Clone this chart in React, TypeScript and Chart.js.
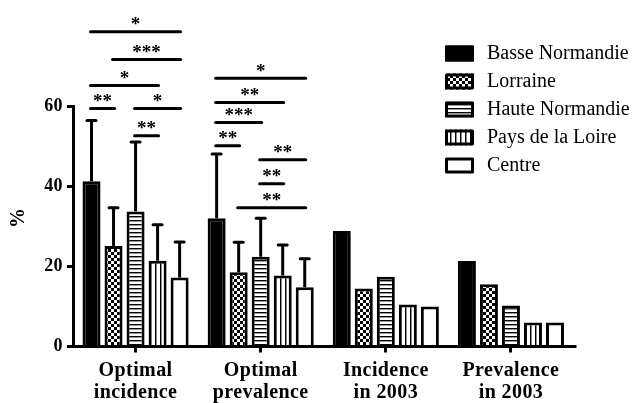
import React, { useEffect, useRef } from 'react';
import { Chart, registerables } from 'chart.js';

Chart.register(...registerables);

const FONT = "'Liberation Serif', 'Times New Roman', Times, serif";

const categories = [
  ['Optimal', 'incidence'],
  ['Optimal', 'prevalence'],
  ['Incidence', 'in 2003'],
  ['Prevalence', 'in 2003'],
];
const seriesNames = ['Basse Normandie', 'Lorraine', 'Haute Normandie', 'Pays de la Loire', 'Centre'];

const basseNormandie = [41.2, 32, 28.8, 21.3];
const lorraine = [25.1, 18.5, 14.5, 15.5];
const hauteNormandie = [33.7, 22.4, 17.4, 10.2];
const paysDeLaLoire = [21.4, 17.7, 10.5, 6];
const centre = [17.2, 14.8, 10, 6];

const basseErr = [56.4, 48, null, null];
const lorraineErr = [34.6, 26, null, null];
const hauteErr = [51, 32, null, null];
const paysErr = [30.4, 25.3, null, null];
const centreErr = [26.1, 21.9, null, null];

const yMin = 0;
const yMax = 60;
const yStep = 20;

// significance brackets
const bracketGroup = [0, 0, 0, 0, 0, 0, 1, 1, 1, 1, 1, 1, 1];
const bracketFrom = [0, 1, 0, 0, 2, 2, 0, 0, 0, 0, 2, 2, 1];
const bracketTo = [4, 4, 3, 1, 4, 3, 4, 3, 2, 1, 4, 3, 4];
const bracketLevel = [78.5, 71.6, 65.1, 59.4, 59.4, 52.6, 66.9, 60.9, 55.9, 50.1, 46.6, 40.6, 34.6];
const bracketStars = ['*', '***', '*', '**', '*', '**', '*', '**', '***', '**', '**', '**', '**'];

function makePattern(kind: string): CanvasPattern | string {
  const c = document.createElement('canvas');
  const ctx = c.getContext('2d');
  if (!ctx) return '#fff';
  if (kind === 'checker') {
    c.width = 6; c.height = 6;
    ctx.fillStyle = '#000'; ctx.fillRect(0, 0, 6, 6);
    ctx.fillStyle = '#fff'; ctx.fillRect(0, 0, 3, 3); ctx.fillRect(3, 3, 3, 3);
  } else if (kind === 'hstripe') {
    c.width = 4; c.height = 4;
    ctx.fillStyle = '#fff'; ctx.fillRect(0, 0, 4, 4);
    ctx.fillStyle = '#000'; ctx.fillRect(0, 0, 4, 1);
    ctx.fillStyle = 'rgba(0,0,0,0.4)'; ctx.fillRect(0, 1, 4, 1);
  } else if (kind === 'vstripe') {
    c.width = 5; c.height = 5;
    ctx.fillStyle = '#fff'; ctx.fillRect(0, 0, 5, 5);
    ctx.fillStyle = '#000'; ctx.fillRect(0, 0, 1, 5);
    ctx.fillStyle = 'rgba(0,0,0,0.45)'; ctx.fillRect(1, 0, 1, 5);
  }
  const p = ctx.createPattern(c, 'repeat');
  return p || '#fff';
}

export default function App() {
  const ref = useRef<HTMLCanvasElement>(null);

  useEffect(() => {
    const canvas = ref.current;
    if (!canvas) return;
    const fills = ['#000', makePattern('checker'), makePattern('hstripe'), makePattern('vstripe'), '#fff'];
    const values = [basseNormandie, lorraine, hauteNormandie, paysDeLaLoire, centre];
    const errors = [basseErr, lorraineErr, hauteErr, paysErr, centreErr];

    const extras = {
      id: 'extras',
      beforeDraw(chart: any) {
        chart.ctx.letterSpacing = '0.4px';
      },
      beforeDatasetsDraw(chart: any) {
        chart.ctx.letterSpacing = '0px';
      },
      afterDatasetsDraw(chart: any) {
        const ctx = chart.ctx;
        const ys = chart.scales.y;
        const area = chart.chartArea;
        ctx.save();
        ctx.strokeStyle = '#000';
        ctx.fillStyle = '#000';
        ctx.lineWidth = 3;
        // axis line extension beyond the plot area
        ctx.beginPath(); ctx.moveTo(area.left - 6, area.bottom); ctx.lineTo(area.right + 3, area.bottom); ctx.stroke();
        errors.forEach((errs, i) => {
          const meta = chart.getDatasetMeta(i);
          errs.forEach((e, j) => {
            if (e == null) return;
            const bar: any = meta.data[j];
            const yt = ys.getPixelForValue(e);
            ctx.lineCap = 'butt';
            ctx.beginPath(); ctx.moveTo(bar.x, bar.y); ctx.lineTo(bar.x, yt); ctx.stroke();
            ctx.lineCap = 'round';
            ctx.beginPath(); ctx.moveTo(bar.x - 4.5, yt); ctx.lineTo(bar.x + 4.5, yt); ctx.stroke();
          });
        });
        ctx.lineCap = 'round';
        ctx.font = `bold 19px ${FONT}`;
        ctx.textAlign = 'center';
        ctx.textBaseline = 'alphabetic';
        bracketGroup.forEach((g, k) => {
          const b1: any = chart.getDatasetMeta(bracketFrom[k]).data[g];
          const b2: any = chart.getDatasetMeta(bracketTo[k]).data[g];
          const yl = ys.getPixelForValue(bracketLevel[k]);
          ctx.beginPath(); ctx.moveTo(b1.x - 1, yl); ctx.lineTo(b2.x + 1, yl); ctx.stroke();
          const m = ctx.measureText(bracketStars[k]);
          const cy = yl - 10.5;
          const base = cy + (m.actualBoundingBoxAscent - m.actualBoundingBoxDescent) / 2;
          ctx.fillText(bracketStars[k], (b1.x + b2.x) / 2, base);
        });
        ctx.restore();
      },
      afterDraw(chart: any) {
        const ctx = chart.ctx;
        ctx.save();
        ctx.letterSpacing = '0px';
        // y title
        ctx.translate(19, 218);
        ctx.rotate(-Math.PI / 2);
        ctx.font = `bold 20px ${FONT}`;
        ctx.fillStyle = '#000';
        ctx.textAlign = 'center';
        ctx.textBaseline = 'middle';
        ctx.fillText('%', 0, 0);
        ctx.restore();
        // legend
        ctx.save();
        ctx.letterSpacing = '0px';
        const bx = 445, bw = 29, bh = 16;
        seriesNames.forEach((name, i) => {
          const cy = 53.5 + i * 28;
          const by = cy - bh / 2;
          ctx.fillStyle = fills[i] as any;
          ctx.fillRect(bx, by, bw, bh);
          ctx.strokeStyle = '#000';
          ctx.lineWidth = 3;
          ctx.lineJoin = 'round';
          ctx.strokeRect(bx + 1.5, by + 1.5, bw - 3, bh - 3);
          ctx.fillStyle = '#000';
          ctx.font = `20px ${FONT}`;
          ctx.textAlign = 'left';
          ctx.textBaseline = 'middle';
          ctx.fillText(name, 487, cy);
        });
        ctx.restore();
      },
    };

    const chart = new Chart(canvas, {
      type: 'bar',
      data: {
        labels: categories as any,
        datasets: seriesNames.map((name, i) => ({
          label: name,
          data: values[i],
          backgroundColor: fills[i] as any,
          borderColor: '#000',
          borderWidth: 3,
          categoryPercentage: 0.88,
          barPercentage: 0.818,
        })),
      },
      options: {
        animation: false,
        responsive: true,
        maintainAspectRatio: false,
        events: [],
        layout: { padding: { top: 106, right: 58.5, bottom: 0, left: 0 } },
        plugins: {
          legend: { display: false },
          tooltip: { enabled: false },
          title: { display: false },
        },
        scales: {
          x: {
            type: 'category',
            grid: { display: true, drawOnChartArea: false, drawTicks: true, tickLength: 6, lineWidth: 3, color: '#000', offset: false },
            border: { display: true, width: 3, color: '#000' },
            ticks: {
              color: '#000',
              font: { family: FONT, size: 20, weight: 'bold', lineHeight: 1.1 },
              padding: 7,
              maxRotation: 0,
              autoSkip: false,
            },
            afterFit: (s: any) => { s.height = 56.5; },
          },
          y: {
            min: yMin,
            max: yMax,
            grid: { display: true, drawOnChartArea: false, drawTicks: true, tickLength: 6, lineWidth: 3, color: '#000' },
            border: { display: true, width: 3, color: '#000' },
            ticks: {
              stepSize: yStep,
              color: '#000',
              font: { family: FONT, size: 18, weight: 'bold' },
              padding: 4,
            },
            afterFit: (s: any) => { s.width = 73; },
          },
        },
      },
      plugins: [extras],
    } as any);

    return () => chart.destroy();
  }, []);

  return (
    <div style={{ position: 'fixed', left: 0, top: 0, width: 632, height: 403, background: '#fff' }}>
      <canvas ref={ref} />
    </div>
  );
}
